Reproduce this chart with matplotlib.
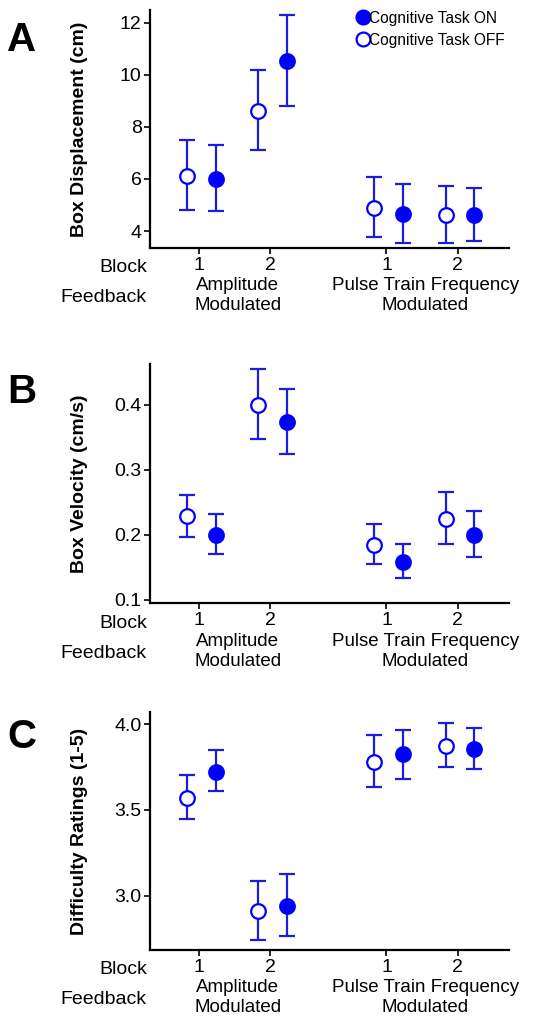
import matplotlib
matplotlib.use("Agg")
import matplotlib.pyplot as plt
import numpy as np

plt.rcParams['font.family'] = ['Liberation Sans', 'DejaVu Sans']

# x layout (block positions within feedback groups)
block_labels = ["1", "2", "1", "2"]
feedback_labels = ["Amplitude\nModulated", "Pulse Train Frequency\nModulated"]

# Panel A: Box Displacement (cm)
dispOFF = [6.13, 8.61, 4.87, 4.61]
dispOFF_hi = [7.48, 10.20, 6.07, 5.74]
dispOFF_lo = [4.82, 7.11, 3.78, 3.56]
dispON = [6.00, 10.53, 4.67, 4.61]
dispON_hi = [7.30, 12.28, 5.82, 5.66]
dispON_lo = [4.76, 8.81, 3.53, 3.60]

# Panel B: Box Velocity (cm/s)
velOFF = [0.229, 0.3995, 0.1836, 0.224]
velOFF_hi = [0.2615, 0.4554, 0.2169, 0.266]
velOFF_lo = [0.1964, 0.347, 0.1549, 0.185]
velON = [0.200, 0.374, 0.158, 0.200]
velON_hi = [0.2318, 0.425, 0.185, 0.237]
velON_lo = [0.1708, 0.3246, 0.1333, 0.1656]

# Panel C: Difficulty Ratings (1-5)
diffOFF = [3.570, 2.912, 3.778, 3.872]
diffOFF_hi = [3.704, 3.084, 3.936, 4.004]
diffOFF_lo = [3.447, 2.743, 3.632, 3.747]
diffON = [3.722, 2.938, 3.823, 3.856]
diffON_hi = [3.848, 3.125, 3.967, 3.979]
diffON_lo = [3.611, 2.765, 3.677, 3.737]

xpos = np.array([1.0, 2.0, 3.63, 4.63])
off_shift, on_shift = -0.17, 0.23
blue = '#0000ff'
ebar = '#1c1cdc'

W, H = 533, 1023
fig = plt.figure(figsize=(W / 100, H / 100), dpi=100)

def ax_rect(left, right, top, bottom):
    return [left / W, 1 - bottom / H, (right - left) / W, (bottom - top) / H]

panels = [
    dict(rect=ax_rect(150, 509, 10, 248), ylim=(3.35, 12.49), yticks=[4, 6, 8, 10, 12],
         fmt="{:.0f}", ylabel="Box Displacement (cm)", letter="A", ly=40,
         off=(dispOFF, dispOFF_lo, dispOFF_hi), on=(dispON, dispON_lo, dispON_hi)),
    dict(rect=ax_rect(150, 509, 364, 603), ylim=(0.0949, 0.463), yticks=[0.1, 0.2, 0.3, 0.4],
         fmt="{:.1f}", ylabel="Box Velocity (cm/s)", letter="B", ly=392,
         off=(velOFF, velOFF_lo, velOFF_hi), on=(velON, velON_lo, velON_hi)),
    dict(rect=ax_rect(150, 509, 712, 950), ylim=(2.683, 4.07), yticks=[3.0, 3.5, 4.0],
         fmt="{:.1f}", ylabel="Difficulty Ratings (1-5)", letter="C", ly=737,
         off=(diffOFF, diffOFF_lo, diffOFF_hi), on=(diffON, diffON_lo, diffON_hi)),
]

FS = 14
FS2 = 13.5
for i, p in enumerate(panels):
    ax = fig.add_axes(p["rect"])
    for key, shift, face in (("off", off_shift, "white"), ("on", on_shift, blue)):
        m, lo, hi = (np.array(v) for v in p[key])
        yerr = np.vstack([m - lo, hi - m])
        ax.errorbar(xpos + shift, m, yerr=yerr, fmt='none', ecolor=ebar,
                    elinewidth=1.6, capsize=5.5, capthick=1.6, zorder=2)
        ax.plot(xpos + shift, m, 'o', ms=10.5, mfc=face, mec=blue, mew=1.6, zorder=3,
                label="Cognitive Task ON" if key == "on" else "Cognitive Task OFF")
    ax.set_xlim(0.31, 5.35)
    ax.set_ylim(*p["ylim"])
    ax.set_yticks(p["yticks"])
    ax.set_yticklabels([p["fmt"].format(t) for t in p["yticks"]], fontsize=FS)
    ax.set_xticks(xpos)
    ax.set_xticklabels(block_labels, fontsize=FS)
    ax.tick_params(axis='both', direction='out', length=4, width=1.2, color='black')
    ax.tick_params(axis='x', pad=2.5)
    ax.tick_params(axis='y', pad=2)
    for s in ("top", "right"):
        ax.spines[s].set_visible(False)
    for s in ("left", "bottom"):
        ax.spines[s].set_linewidth(1.6)
    ax.set_ylabel(p["ylabel"], fontsize=14, fontweight='bold')
    ax.yaxis.set_label_coords(-0.172, 0.5)

    ax.annotate("Block", xy=(0, 0), xycoords='axes fraction', xytext=(-3, -20),
                textcoords='offset pixels', ha='right', va='center', fontsize=FS)
    ax.annotate("Feedback", xy=(0, 0), xycoords='axes fraction', xytext=(-3, -50),
                textcoords='offset pixels', ha='right', va='center', fontsize=FS)
    for g, lab in enumerate(feedback_labels):
        xc = (xpos[2 * g] + xpos[2 * g + 1]) / 2
        top, bot = lab.split("\n")
        ax.annotate(top, xy=(xc, 0), xycoords=('data', 'axes fraction'), xytext=(3, -38),
                    textcoords='offset pixels', ha='center', va='center', fontsize=FS2,
                    annotation_clip=False)
        ax.annotate(bot, xy=(xc, 0), xycoords=('data', 'axes fraction'), xytext=(3, -58),
                    textcoords='offset pixels', ha='center', va='center', fontsize=FS2,
                    annotation_clip=False)

    fig.text(22 / W, 1 - p["ly"] / H, p["letter"], fontsize=29, fontweight='bold',
             ha='center', va='center')

    if i == 0:
        h, l = ax.get_legend_handles_labels()
        ax.legend(h[::-1], l[::-1], loc='upper right', bbox_to_anchor=(1.015, 1.037),
                  frameon=False, fontsize=11.2, handletextpad=0.0, labelspacing=0.45,
                  handlelength=0.8, borderaxespad=0.2, markerscale=0.95)

fig.savefig("out.png", dpi=100)
